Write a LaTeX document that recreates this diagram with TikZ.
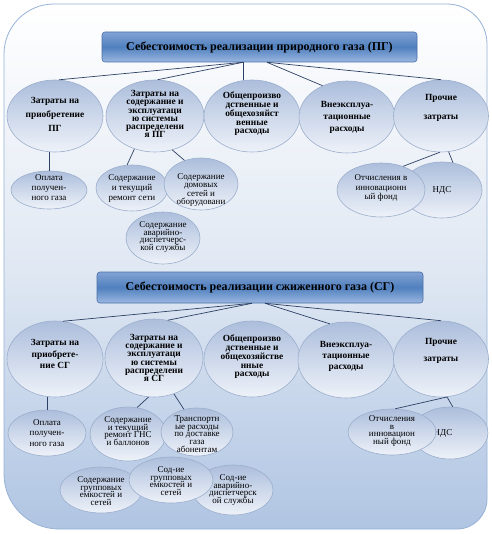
\documentclass[tikz,border=0pt]{standalone}
\usepackage{fontspec}
\setmainfont{Liberation Serif}
\usetikzlibrary{shapes.geometric}
\definecolor{lineC}{RGB}{45,65,100}
\definecolor{ellTop}{RGB}{172,190,220}
\definecolor{ellBot}{RGB}{238,242,249}
\definecolor{ellDraw}{RGB}{155,174,204}
\definecolor{hdTop}{RGB}{130,162,212}
\definecolor{hdMid}{RGB}{80,128,190}
\definecolor{hdBot}{RGB}{155,183,224}
\definecolor{hdDraw}{RGB}{75,112,170}
\definecolor{bgMid}{RGB}{224,232,243}
\definecolor{bgBot}{RGB}{176,197,227}
\definecolor{bgDraw}{RGB}{150,178,214}
\def\ctsize{9}
\newcommand\ctext[3][0]{\makebox[0pt]{\raisebox{\dimexpr#1pt-2.5pt\relax}[0pt][0pt]{\parbox[c]{130pt}{\centering\fontsize{\ctsize}{#2}\selectfont\lineskiplimit=-20pt\relax #3\par}}}}
\tikzset{
  bgbox/.style={draw=bgDraw, line width=0.8pt, top color=white, bottom color=bgBot, middle color=bgMid},
  hdr/.style={rectangle, rounded corners=3pt, draw=hdDraw, line width=0.6pt, top color=hdTop, bottom color=hdBot, middle color=hdMid, font=\bfseries\fontsize{12}{14}\selectfont, inner sep=0pt},
  lvl/.style={ellipse, draw=ellDraw, line width=0.6pt, top color=ellTop, bottom color=ellBot, inner sep=0pt, font={\bfseries\def\ctsize{9.4}}},
  sub/.style={ellipse, draw=ellDraw, line width=0.6pt, top color=ellTop, bottom color=ellBot, inner sep=0pt},
  es/.style 2 args={minimum width=#1pt, minimum height=#2pt},
  conn/.style={draw=lineC, line width=0.7pt}
}
\begin{document}
\begin{tikzpicture}[x=1pt,y=-1pt]
\useasboundingbox (0,0) rectangle (491,534);
\path[bgbox] (4,270) [rounded corners=50pt] |- (245,4) [rounded corners=40pt] -| (487,270) [rounded corners=30pt] |- (245,529) [rounded corners=55pt] -| (4,270) -- cycle;

% ---------- natural gas ----------
\node[hdr, minimum width=315pt, minimum height=30pt] (H1) at (259.5,47) {Себестоимость реализации природного газа (ПГ)};
\coordinate (h1l) at ([xshift=-16.5pt]H1.south);
\coordinate (h1r) at ([xshift=7.5pt]H1.south);

\node[lvl, es={96}{72}] (p1) at (55,116) {\ctext[2]{14}{Затраты на\\приобретение\\ПГ}};
\node[lvl, es={98}{72}] (p2) at (155,116) {\ctext[2]{8.2}{Затраты на\\содержание и\\эксплуатаци\\ю системы\\распределени\\я ПГ}};
\node[lvl, es={96}{72}] (p3) at (252,116) {\ctext[2]{8.8}{Общепроизво\\дственные и\\общехозяйст\\венные\\расходы}};
\node[lvl, es={96}{72}] (p4) at (347,117) {\ctext[0]{12}{Внеэксплуа-\\тационные\\расходы}};
\node[lvl, es={95}{72}] (p5) at (441,116) {\ctext[8.5]{19}{Прочие\\затраты}};

\node[sub, es={76}{38}] (s1) at (49,190) {\ctext[2]{10}{Оплата\\получен-\\ного газа}};
\node[sub, es={72}{46}] (s2) at (132,188) {\ctext[0]{10}{Содержание\\и текущий\\ремонт сети}};
\node[sub, es={74}{52}] (s3) at (201,184) {\ctext[-6]{8.5}{Содержание\\домовых\\сетей и\\оборудовани}};
\node[sub, es={74}{52}] (s4) at (163,238) {\ctext[1]{7.8}{Содержание\\аварийно-\\диспетчерс-\\кой службы}};
\node[sub, es={80}{56}] (s6) at (442,190) {\ctext{10}{НДС}};
\node[sub, es={88}{54}] (s5) at (381,190) {\ctext[2]{9.5}{Отчисления в\\инновационн\\ый фонд}};

\draw[conn] (h1l) -- (p1.84);
\draw[conn] (h1l) -- (p2.86);
\draw[conn] (h1l) -- (h1l |- p3.north);
\draw[conn] (h1r) -- (p4.128);
\draw[conn] (h1r) -- (p5.north);
\draw[conn] (s1.north) -- (s1.north |- p1.south);
\draw[conn] (p2.238) -- (s2.102);
\draw[conn] (p2.297) -- (s3.125);
\draw[conn] (p5.268) -- (s5.47);
\draw[conn] (p5.282) -- (s6.68);

% ---------- liquefied gas ----------
\node[hdr, minimum width=326pt, minimum height=31pt] (H2) at (260,287.5) {Себестоимость реализации сжиженного газа (СГ)};
\coordinate (h2l) at ([xshift=-8pt]H2.south);
\coordinate (h2r) at ([xshift=5pt]H2.south);

\node[lvl, es={96}{76}] (g1) at (55,359) {\ctext[5]{11.5}{Затраты на\\приобрете-\\ние СГ}};
\node[lvl, es={98}{78}] (g2) at (154,358) {\ctext[0]{8.3}{Затраты на\\содержание и\\эксплуатаци\\ю системы\\распределени\\я СГ}};
\node[lvl, es={96}{76}] (g3) at (252,359) {\ctext[2]{8.8}{Общепроизво\\дственные и\\общехозяйстве\\нные\\расходы}};
\node[lvl, es={96}{76}] (g4) at (346,360) {\ctext[4]{11}{Внеэксплуа-\\тационные\\расходы}};
\node[lvl, es={95}{76}] (g5) at (441,359) {\ctext[8]{17}{Прочие\\затраты}};

\node[sub, es={78}{46}] (t1) at (47,433) {\ctext{10.5}{Оплата\\получен-\\ного газа}};
\node[sub, es={76}{54}] (t2) at (128,434) {\ctext[3]{7.7}{Содержание\\и текущий\\ремонт ГНС\\и баллонов}};
\node[sub, es={72}{48}] (t3) at (197,432) {\ctext[-2]{7.6}{Транспортн\\ые расходы\\по доставке\\газа\\абонентам}};
\node[sub, es={82}{46}] (t4) at (101,490) {\ctext[-1]{7.5}{Содержание\\групповых\\емкостей и\\сетей}};
\node[sub, es={80}{50}] (t6) at (233,490) {\ctext{7.6}{Сод-ие\\аварийно-\\диспетчерск\\ой службы}};
\node[sub, es={84}{46}] (t5) at (171,480) {\ctext[-1]{7.7}{Сод-ие\\групповых\\емкостей и\\сетей}};
\node[sub, es={76}{52}] (t8) at (450,433) {\ctext{10}{\hspace*{-14pt}НДС}};
\node[sub, es={88}{46}] (t7) at (392,432) {\ctext[1]{7.6}{Отчисления\\в\\инновацион\\ный фонд}};

\draw[conn] (h2l) -- (g1.78);
\draw[conn] (h2l) -- (g2.70);
\draw[conn] (h2r) -- (g4.114);
\draw[conn] (h2r) -- (g5.north);
\draw[conn] (t1.north) -- (t1.north |- g1.south);
\draw[conn] (g2.262) -- (t2.71);
\draw[conn] (g2.299) -- (t3.120);
\draw[conn] (g5.279) -- (t7.82);
\draw[conn] (g5.279) -- (t8.84);
\end{tikzpicture}
\end{document}
